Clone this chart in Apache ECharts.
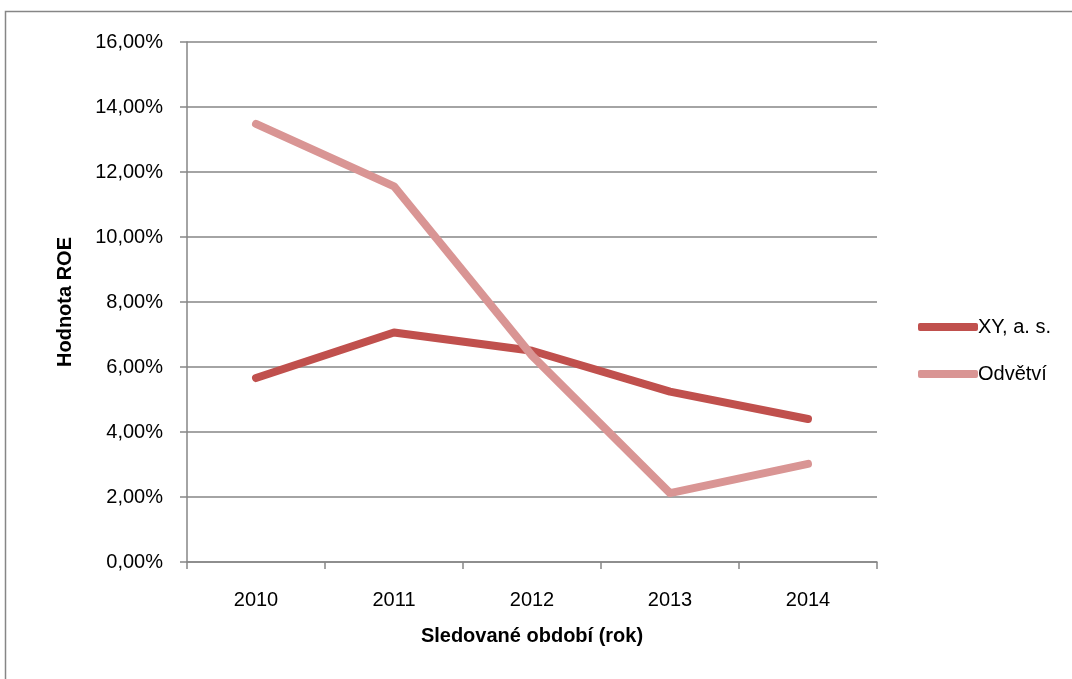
<!DOCTYPE html>
<html>
<head>
<meta charset="utf-8">
<script src="https://cdn.jsdelivr.net/npm/echarts@6/dist/echarts.min.js"></script>
<style>
  html, body { margin: 0; padding: 0; background: #fff; }
  #chart { width: 1072px; height: 679px; }
</style>
</head>
<body>
<div id="chart"></div>
<script>
// data (ROE v %)
var roky = ['2010', '2011', '2012', '2013', '2014'];
var xyData = [5.66, 7.06, 6.5, 5.24, 4.4];
var odvetviData = [13.48, 11.56, 6.35, 2.12, 3.02];

var chart = echarts.init(document.getElementById('chart'));
var font = 'Liberation Sans, Arial, sans-serif';

var option = {
    backgroundColor: '#fff',
    animation: false,
    graphic: [{
        type: 'rect',
        shape: { x: 5.5, y: 11.5, width: 1100, height: 700 },
        style: { fill: 'none', stroke: '#868686', lineWidth: 1.5 }
    }],
    grid: { left: 187, right: 195, top: 42, bottom: 117 },
    legend: {
        orient: 'vertical',
        left: 913,
        top: 312,
        itemWidth: 60,
        itemHeight: 8,
        itemGap: 27,
        textStyle: { fontFamily: font, fontSize: 20, color: '#000', padding: [0, 0, 0, -5] },
        data: [
            { name: 'XY, a. s.', icon: 'roundRect' },
            { name: 'Odvětví', icon: 'roundRect' }
        ]
    },
    xAxis: {
        type: 'category',
        data: roky,
        boundaryGap: true,
        name: 'Sledované období (rok)',
        nameLocation: 'middle',
        nameGap: 64,
        nameTextStyle: { fontFamily: font, fontSize: 20, fontWeight: 'bold', color: '#000' },
        axisLine: { lineStyle: { color: '#868686', width: 1.5 } },
        axisTick: { show: true, length: 7, alignWithLabel: false, lineStyle: { color: '#868686', width: 1.5 } },
        axisLabel: { fontFamily: font, fontSize: 20, color: '#000', margin: 28 }
    },
    yAxis: {
        type: 'value',
        min: 0,
        max: 16,
        interval: 2,
        name: 'Hodnota ROE',
        nameLocation: 'middle',
        nameGap: 112,
        nameTextStyle: { fontFamily: font, fontSize: 20, fontWeight: 'bold', color: '#000' },
        axisLine: { show: true, lineStyle: { color: '#868686', width: 1.5 } },
        axisTick: { show: true, length: 7, lineStyle: { color: '#868686', width: 1.5 } },
        splitLine: { show: true, lineStyle: { color: '#868686', width: 1.5 } },
        axisLabel: {
            fontFamily: font, fontSize: 20, color: '#000', margin: 24,
            formatter: function (v) { return v.toFixed(2).replace('.', ',') + '%'; }
        }
    },
    series: [{
        name: 'XY, a. s.',
        type: 'line',
        data: xyData,
        symbol: 'none',
        color: '#C0504D',
        lineStyle: { width: 8, color: '#C0504D', cap: 'round', join: 'round' },
        z: 3
    }, {
        name: 'Odvětví',
        type: 'line',
        data: odvetviData,
        symbol: 'none',
        color: '#D99594',
        lineStyle: { width: 8, color: '#D99594', cap: 'round', join: 'round' },
        z: 4
    }]
};
chart.setOption(option);
</script>
</body>
</html>
